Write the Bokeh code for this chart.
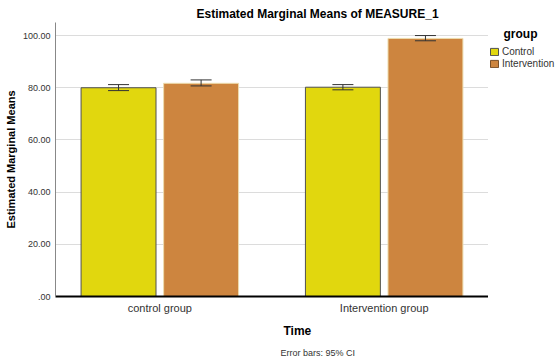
import numpy as np
from bokeh.plotting import figure
from bokeh.layouts import row
from bokeh.models import (ColumnDataSource, FactorRange, Range1d, FixedTicker, CustomJSTickFormatter,
                          Whisker, TeeHead, Title, Legend, LegendItem, Label)
from bokeh.transform import dodge
from bokeh.embed import file_html
from bokeh.resources import INLINE

# ---- data ----
times = ["control group", "Intervention group"]
control_mean = [80.0, 80.2]
control_lower = [78.9, 79.2]
control_upper = [81.2, 81.2]
intervention_mean = [81.7, 98.9]
intervention_lower = [80.7, 98.0]
intervention_upper = [83.0, 100.0]
y_ticks = [0, 20, 40, 60, 80, 100]
group_names = ["Control", "Intervention"]

FONT = "Liberation Sans"
YELLOW = "#e1d70e"
ORANGE = "#cd853f"

src_c = ColumnDataSource(dict(time=times, mean=control_mean, lower=control_lower, upper=control_upper))
src_i = ColumnDataSource(dict(time=times, mean=intervention_mean, lower=intervention_lower, upper=intervention_upper))

p = figure(width=488, height=359, output_backend="svg", toolbar_location=None,
           x_range=FactorRange(factors=times, range_padding=-0.035, range_padding_units="absolute"),
           y_range=Range1d(0, 105),
           min_border_left=55, min_border_right=0, min_border_top=22, min_border_bottom=63)
p.outline_line_color = None
p.xgrid.grid_line_color = None
p.ygrid.grid_line_color = "#dcdcdc"
p.ygrid.ticker = FixedTicker(ticks=y_ticks)

off = 0.184
w = 0.334
r1 = p.vbar(x=dodge("time", -off, range=p.x_range), top="mean", bottom=0, width=w, source=src_c,
            fill_color=YELLOW, line_color="#505050", line_width=1)
r2 = p.vbar(x=dodge("time", off, range=p.x_range), top="mean", bottom=0, width=w, source=src_i,
            fill_color=ORANGE, line_color="#eddcae", line_width=1)

for src, o in ((src_c, -off), (src_i, off)):
    wk = Whisker(base=dodge("time", o, range=p.x_range), upper="upper", lower="lower", source=src,
                 line_color="#333333", line_width=1, level="annotation",
                 upper_head=TeeHead(size=21, line_color="#333333", line_width=1),
                 lower_head=TeeHead(size=21, line_color="#333333", line_width=1))
    p.add_layout(wk)

# axes
p.yaxis.ticker = FixedTicker(ticks=y_ticks)
p.yaxis.formatter = CustomJSTickFormatter(code="return tick == 0 ? '.00' : tick.toFixed(2);")
p.yaxis.axis_line_color = "#888888"
p.yaxis.major_tick_line_color = None
p.yaxis.minor_tick_line_color = None
p.yaxis.major_tick_in = 0
p.yaxis.major_tick_out = 0
p.yaxis.major_label_standoff = 5
p.yaxis.major_label_text_font = FONT
p.yaxis.major_label_text_font_size = "9px"
p.yaxis.major_label_text_color = "#333333"
p.yaxis.axis_label = "Estimated Marginal Means"
p.yaxis.axis_label_text_font = FONT
p.yaxis.axis_label_text_font_size = "11px"
p.yaxis.axis_label_text_font_style = "bold"
p.yaxis.axis_label_text_color = "black"
p.yaxis.axis_label_standoff = 3

p.xaxis.axis_line_color = "black"
p.xaxis.axis_line_width = 2
p.xaxis.major_tick_line_color = None
p.xaxis.minor_tick_line_color = None
p.xaxis.major_tick_in = 0
p.xaxis.major_tick_out = 0
p.xaxis.major_label_standoff = 5
p.xaxis.major_label_text_font = FONT
p.xaxis.major_label_text_font_size = "11px"
p.xaxis.major_label_text_color = "#333333"

# titles
p.add_layout(Title(text="Estimated Marginal Means of MEASURE_1", align="left", offset=141, standoff=4,
                   text_font=FONT, text_font_size="12px", text_font_style="bold", text_color="black"), "above")
p.add_layout(Title(text="Time", align="left", offset=228, standoff=11,
                   text_font=FONT, text_font_size="12px", text_font_style="bold", text_color="black"), "below")
p.add_layout(Title(text="Error bars: 95% CI", align="left", offset=225, standoff=4,
                   text_font=FONT, text_font_size="9px", text_font_style="normal", text_color="#333333"), "below")

# ---- legend panel (frame aligned with the main plot) ----
p2 = figure(width=67, height=359, output_backend="svg", toolbar_location=None,
            x_axis_type=None, y_axis_type=None, x_range=Range1d(0, 1), y_range=p.y_range,
            min_border_left=0, min_border_right=0, min_border_top=22, min_border_bottom=63)
p2.outline_line_color = None
p2.grid.grid_line_color = None
legend_src = ColumnDataSource(dict(x=np.array([0.5]), top=np.array([np.nan])))
g1 = p2.vbar(x="x", top="top", width=0.1, source=legend_src,
             fill_color=YELLOW, line_color="#505050", line_width=1)
g2 = p2.vbar(x="x", top="top", width=0.1, source=legend_src,
             fill_color=ORANGE, line_color="#7a5028", line_width=1)
p2.add_layout(Label(x=15, y=263, x_units="screen", y_units="screen", text="group",
                    text_font=FONT, text_font_size="12px", text_font_style="bold", text_color="black",
                    text_align="left", text_baseline="middle"))

legend = Legend(items=[LegendItem(label=group_names[0], renderers=[g1]),
                       LegendItem(label=group_names[1], renderers=[g2])],
                location=(1, 227), orientation="vertical",
                glyph_width=10, glyph_height=9, label_height=9, spacing=1, label_standoff=3,
                padding=0, margin=0, border_line_color=None, background_fill_alpha=0,
                label_text_font=FONT, label_text_font_size="10px", label_text_color="#333333")
p2.add_layout(legend)

layout = row(p, p2, spacing=0)
open("out.html", "w").write(file_html(layout, INLINE))
